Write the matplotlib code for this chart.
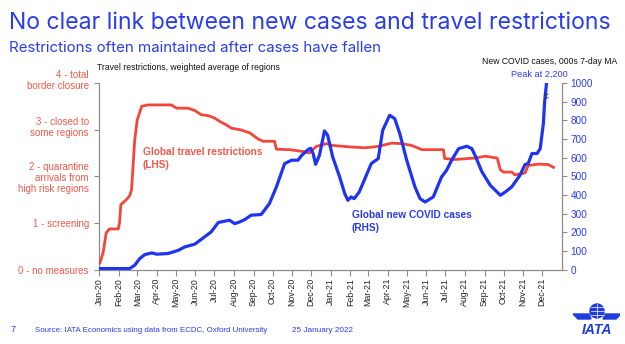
import matplotlib
matplotlib.use("Agg")
import matplotlib.pyplot as plt
import matplotlib.dates as mdates
import matplotlib.transforms as mtransforms
from matplotlib.patches import Circle, Polygon
import numpy as np

# ---------------- data ----------------
restr_dates = ["2020-01-02", "2020-01-07", "2020-01-12", "2020-01-17", "2020-01-31", "2020-02-02",
               "2020-02-04", "2020-02-13", "2020-02-18", "2020-02-21", "2020-02-26", "2020-03-01",
               "2020-03-08", "2020-03-18", "2020-04-24", "2020-05-02", "2020-05-20", "2020-05-31",
               "2020-06-10", "2020-06-21", "2020-07-01", "2020-07-09", "2020-07-20", "2020-07-28",
               "2020-08-10", "2020-08-26", "2020-09-08", "2020-09-16", "2020-10-04", "2020-10-07",
               "2020-10-28", "2020-11-18", "2020-11-28", "2020-12-09", "2020-12-25", "2021-01-04",
               "2021-01-31", "2021-02-24", "2021-03-17", "2021-04-07", "2021-04-23", "2021-05-09",
               "2021-05-25", "2021-06-28", "2021-06-30", "2021-07-17", "2021-08-17", "2021-09-02",
               "2021-09-21", "2021-09-26", "2021-10-01", "2021-10-14", "2021-10-19", "2021-11-04",
               "2021-11-09", "2021-11-25", "2021-12-11", "2021-12-19"]
restr_values = [0.14, 0.36, 0.79, 0.87, 0.87, 1.00,
                1.39, 1.50, 1.58, 1.71, 2.78, 3.21,
                3.50, 3.53, 3.53, 3.46, 3.46, 3.41,
                3.32, 3.30, 3.25, 3.18, 3.10, 3.03,
                3.00, 2.93, 2.80, 2.75, 2.75, 2.58,
                2.57, 2.53, 2.50, 2.64, 2.70, 2.66,
                2.63, 2.61, 2.64, 2.71, 2.70, 2.66,
                2.57, 2.57, 2.38, 2.36, 2.39, 2.43,
                2.39, 2.14, 2.09, 2.09, 2.03, 2.07,
                2.23, 2.26, 2.25, 2.19]

cases_dates = ["2020-01-02", "2020-01-25", "2020-02-18", "2020-02-26", "2020-03-05", "2020-03-13",
               "2020-03-24", "2020-04-01", "2020-04-19", "2020-05-05", "2020-05-15", "2020-05-31",
               "2020-06-10", "2020-06-26", "2020-07-07", "2020-07-17", "2020-07-25", "2020-08-02",
               "2020-08-10", "2020-08-18", "2020-08-28", "2020-09-13", "2020-09-26", "2020-10-07",
               "2020-10-20", "2020-10-31", "2020-11-10", "2020-11-16", "2020-11-26", "2020-11-30",
               "2020-12-04", "2020-12-08", "2020-12-14", "2020-12-22", "2020-12-27", "2021-01-04",
               "2021-01-15", "2021-01-23", "2021-01-28", "2021-02-02", "2021-02-07", "2021-02-15",
               "2021-02-24", "2021-03-06", "2021-03-17", "2021-03-24", "2021-04-04", "2021-04-12",
               "2021-04-20", "2021-05-01", "2021-05-14", "2021-05-22", "2021-05-30", "2021-06-12",
               "2021-06-25", "2021-07-03", "2021-07-11", "2021-07-22", "2021-08-04", "2021-08-12",
               "2021-08-17", "2021-08-28", "2021-09-10", "2021-09-26", "2021-10-04", "2021-10-14",
               "2021-10-27", "2021-11-04", "2021-11-09", "2021-11-15", "2021-11-23", "2021-11-28",
               "2021-12-03", "2021-12-05", "2021-12-08"]
cases_values = [5, 5, 5, 23, 59, 80,
                89, 82, 86, 103, 121, 136,
                161, 202, 252, 259, 264, 246,
                255, 268, 291, 295, 354, 443,
                568, 586, 586, 612, 643, 650,
                622, 564, 612, 743, 720, 603,
                496, 407, 371, 389, 380, 416,
                488, 568, 595, 746, 827, 809,
                729, 586, 443, 380, 362, 389,
                496, 532, 586, 648, 661, 648,
                612, 523, 452, 398, 416, 443,
                505, 563, 568, 622, 622, 648,
                782, 898, 1000]

left_ticks = [0, 1, 2, 3, 4]
left_labels = ["0 - no measures", "1 - screening",
               "2 - quarantine\narrivals from\nhigh risk regions",
               "3 - closed to\nsome regions", "4 - total\nborder closure"]
right_ticks = list(range(0, 1001, 100))

title = "No clear link between new cases and travel restrictions"
subtitle = "Restrictions often maintained after cases have fallen"
left_axis_title = "Travel restrictions, weighted average of regions"
right_axis_title = "New COVID cases, 000s 7-day MA"
peak_note = "Peak at 2,200"
restr_label = "Global travel restrictions\n(LHS)"
cases_label = "Global new COVID cases\n(RHS)"
footer_page = "7"
footer_source = "Source: IATA Economics using data from ECDC, Oxford University"
footer_date = "25 January 2022"

# ---------------- style ----------------
RED = "#f2463a"
RED_TXT = "#f25a4c"
BLUE = "#1f33f2"
BLUE_TXT = "#2a3cf0"
GRAY = "#8c8c8c"
FONT = ["Liberation Sans", "DejaVu Sans"]

plt.rcParams["font.family"] = FONT

W, H = 625, 344
fig = plt.figure(figsize=(W / 100, H / 100), dpi=100)
fig.patch.set_facecolor("white")

ax_l, ax_r, ax_t, ax_b = 99.3, 561.7, 83.0, 269.5
ax = fig.add_axes([ax_l / W, 1 - ax_b / H, (ax_r - ax_l) / W, (ax_b - ax_t) / H])
ax2 = ax.twinx()

rd = mdates.date2num(np.array(restr_dates, dtype="datetime64[D]"))
cd = mdates.date2num(np.array(cases_dates, dtype="datetime64[D]"))

ax.plot(rd, restr_values, color=RED, lw=2.0, solid_joinstyle="round", zorder=3)
ax2.plot(cd, cases_values, color=BLUE, lw=2.3, solid_joinstyle="round", zorder=3)

x0 = mdates.date2num(np.datetime64("2020-01-01"))
x1 = mdates.date2num(np.datetime64("2022-01-01"))
ax.set_xlim(x0, x1)
ax.set_ylim(0, 4)
ax2.set_ylim(0, 1000)

# x ticks monthly
month_ticks = mdates.date2num(np.arange(np.datetime64("2020-01"), np.datetime64("2022-01"),
                                        dtype="datetime64[M]").astype("datetime64[D]"))
ax.set_xticks(month_ticks)
ax.xaxis.set_major_formatter(mdates.DateFormatter("%b-%y"))
for lab in ax.get_xticklabels():
    lab.set_rotation(90)
ax.tick_params(axis="x", labelsize=6.3, length=4, width=0.8, color=GRAY, pad=2, labelcolor="#222222")

ax.set_yticks(left_ticks)
ax.set_yticklabels(left_labels, color=RED_TXT, fontsize=7.0, linespacing=1.15, ha="right")
ax.tick_params(axis="y", length=3.5, width=0.8, color=GRAY, pad=4)
for lab, t in zip(ax.get_yticklabels(), left_labels):
    if t.count("\n") == 1:
        lab.set_transform(lab.get_transform() + mtransforms.ScaledTranslation(0, 2.8 / 72, fig.dpi_scale_trans))

ax2.set_yticks(right_ticks)
ax2.set_yticklabels([str(v) for v in right_ticks], color=BLUE_TXT, fontsize=7.2)
ax2.tick_params(axis="y", length=3.5, width=0.8, color=GRAY, pad=3)

for a in (ax, ax2):
    a.spines["top"].set_visible(False)
    for s in ("left", "right", "bottom"):
        a.spines[s].set_color(GRAY)
        a.spines[s].set_linewidth(0.9)
ax.spines["right"].set_visible(False)
ax2.spines["left"].set_visible(False)
ax2.spines["bottom"].set_visible(False)

# break marks near the last (clipped) point
bx, by = cd[-1], cases_values[-1]
for dy in (-8.5, -11.0):
    off = mtransforms.offset_copy(ax2.transData, fig=fig, x=-0.6, y=dy, units="points")
    ax2.plot([bx - 2.0, bx + 3.5], [by - 4, by + 4], color="#333333", lw=0.7,
             transform=off, clip_on=False, zorder=4)

# in-plot labels
ax.text(0.0945, 0.595, restr_label, transform=ax.transAxes, color=RED_TXT, fontsize=7.3,
        fontweight="bold", va="center", ha="left", linespacing=1.35)
ax.text(0.546, 0.257, cases_label, transform=ax.transAxes, color=BLUE_TXT, fontsize=7.3,
        fontweight="bold", va="center", ha="left", linespacing=1.35)

# axis titles
fig.text(97 / W, 1 - 67 / H, left_axis_title, fontsize=6.2, color="#111111", va="center", ha="left")
fig.text(617 / W, 1 - 62 / H, right_axis_title, fontsize=6.2, color="#111111", va="center", ha="right")
fig.text(568 / W, 1 - 74.5 / H, peak_note, fontsize=6.6, color=BLUE_TXT, va="center", ha="right")

# titles
fig.text(9 / W, 1 - 23 / H, title, fontsize=16.6, color=BLUE_TXT, family=["Inter", "DejaVu Sans"],
         va="center", ha="left")
fig.text(9 / W, 1 - 48 / H, subtitle, fontsize=10.9, color=BLUE_TXT, family=["Inter", "DejaVu Sans"],
         va="center", ha="left")

# footer
fig.text(11 / W, 1 - 330 / H, footer_page, fontsize=6.5, color=BLUE_TXT, va="center", ha="left")
fig.text(35 / W, 1 - 330 / H, footer_source, fontsize=5.7, color=BLUE_TXT, va="center", ha="left")
fig.text(292 / W, 1 - 330 / H, footer_date, fontsize=5.9, color=BLUE_TXT, va="center", ha="left")

# IATA logo (decorative)
logo = fig.add_axes([570 / W, 1 - 338 / H, 50 / W, 36 / H])
logo.set_xlim(0, 50)
logo.set_ylim(36, 0)
logo.axis("off")
logo.add_patch(Circle((27, 9), 7, color="#1e3ce0"))
for yy in (5, 9, 13):
    logo.plot([20.5, 33.5], [yy, yy], color="white", lw=0.5)
logo.plot([27, 27], [2, 16], color="white", lw=0.5)
logo.add_patch(Polygon([[3, 12], [19, 12], [21, 17], [8, 17]], color="#1e3ce0"))
logo.add_patch(Polygon([[51, 12], [35, 12], [33, 17], [46, 17]], color="#1e3ce0"))
logo.text(27, 27.5, "IATA", fontsize=10, fontweight="bold", style="italic", color="#1e3ce0",
          ha="center", va="center")

fig.savefig("out.png", dpi=100, facecolor="white")
